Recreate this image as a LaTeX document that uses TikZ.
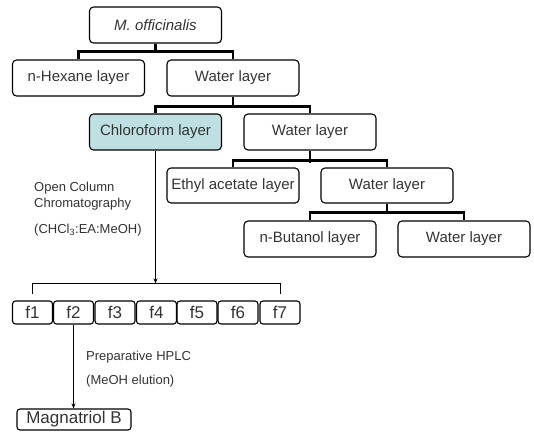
\documentclass[tikz,border=0pt]{standalone}
\usepackage{fontspec}
\setmainfont{Liberation Sans}
\usetikzlibrary{arrows.meta,calc}
\definecolor{txt}{HTML}{333333}
\definecolor{chlfill}{HTML}{BFE0E2}
\tikzset{
  layer/.style={draw=black, line width=1.1pt, rounded corners=4pt, minimum width=132pt, minimum height=36pt, inner sep=0pt, text=txt, font=\fontsize{15}{18}\selectfont},
  frac/.style={draw=black, line width=1.1pt, rounded corners=3pt, minimum width=40pt, minimum height=23pt, inner sep=0pt, text=txt, font=\fontsize{17}{20}\selectfont},
  tree/.style={line width=2.4pt, line join=miter},
  thin/.style={line width=0.8pt},
  arr/.style={line width=0.8pt, -{Stealth[length=5pt,width=4pt]}},
  note/.style={anchor=west, inner sep=0pt, text=txt, font=\fontsize{13}{16}\selectfont, align=left}
}
\begin{document}
\begin{tikzpicture}[x=1pt,y=-1pt]
\useasboundingbox (0,0) rectangle (534,434);
\node[layer] (mo) at (155.5,25) {\itshape M. officinalis};
\node[layer] (hex) at (78.5,78) {n-Hexane layer};
\node[layer] (w1) at (233,78) {Water layer};
\node[layer, fill=chlfill] (chl) at (155.5,132) {Chloroform layer};
\node[layer] (w2) at (310,132) {Water layer};
\node[layer, minimum height=35pt] (ea) at (233,185.5) {Ethyl acetate layer};
\node[layer, minimum height=35pt] (w3) at (387,185.5) {Water layer};
\node[layer] (bu) at (310,239) {n-Butanol layer};
\node[layer] (w4) at (464,239) {Water layer};
% tree connectors
\draw[tree] (mo.south) -- ++(0,9);
\draw[tree] (hex.north) -- ++(0,-8) -| (w1.north);
\draw[tree] (w1.south) -- ++(0,11);
\draw[tree] (chl.north) -- ++(0,-7) -| (w2.north);
\draw[tree] (w2.south) -- ++(0,12);
\draw[tree] (ea.north) -- ++(0,-7) -| (w3.north);
\draw[tree] (w3.south) -- ++(0,10);
\draw[tree] (bu.north) -- ++(0,-8) -| (w4.north);
% fractions
\node[frac] (f1) at (32.5,312.5) {f1};
\node[frac] (f2) at (73.5,312.5) {f2};
\node[frac] (f3) at (115,312.5) {f3};
\node[frac] (f4) at (156.5,312.5) {f4};
\node[frac] (f5) at (197,312.5) {f5};
\node[frac] (f6) at (238,312.5) {f6};
\node[frac] (f7) at (280,312.5) {f7};
\coordinate (bk) at ([yshift=17pt]f1.north);
\draw[thin] ([yshift=6pt]f1.north) -- (bk) -| ([yshift=6pt]f7.north);
\draw[arr] (chl.south) -- (chl.south |- bk);
\node[note] (occ) at (34,196) {Open Column\\Chromatography};
\node[note] (solv) at (34,230) {(CHCl\textsubscript{3}:EA:MeOH)};
% HPLC
\node[frac, minimum width=114pt, minimum height=21pt] (mag) at (74,419.5) {Magnatriol B};
\draw[arr] (f2.south) -- (f2.south |- mag.north);
\node[note] (hplc) at (86,357) {Preparative HPLC};
\node[note] (elu) at (86,381) {(MeOH elution)};
\end{tikzpicture}
\end{document}
